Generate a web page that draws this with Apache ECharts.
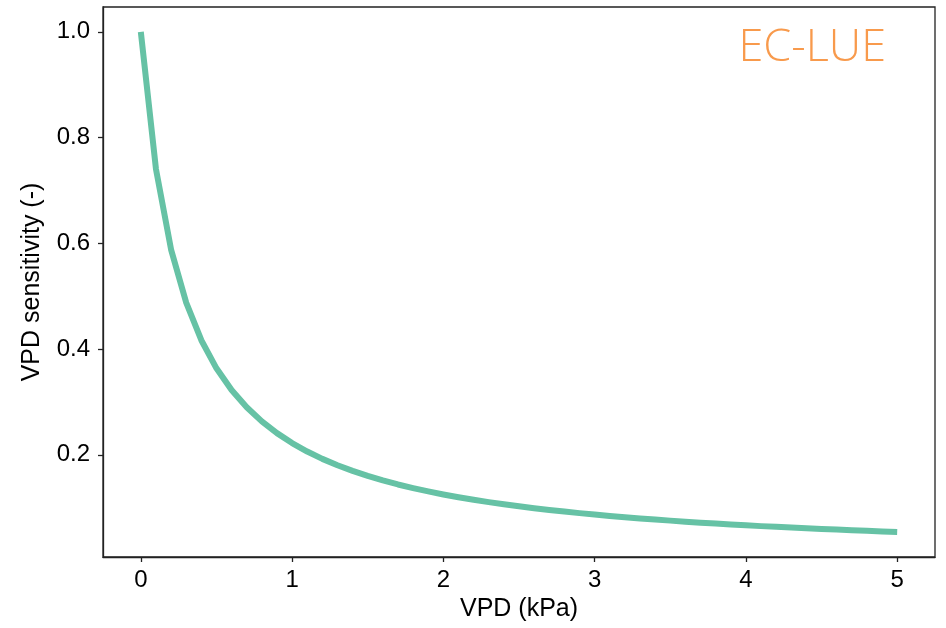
<!DOCTYPE html>
<html>
<head>
<meta charset="utf-8">
<script src="https://cdn.jsdelivr.net/npm/echarts@6/dist/echarts.min.js"></script>
<style>html,body{margin:0;padding:0;background:#fff;}#c{width:946px;height:628px;}</style>
</head>
<body>
<div id="c"></div>
<script>
const vpd = [0,0.1,0.2,0.3,0.4,0.5,0.6,0.7,0.8,0.9,1.0,1.1,1.2,1.3,1.4,1.5,1.6,1.7,1.8,1.9,2.0,2.1,2.2,2.3,2.4,2.5,2.6,2.7,2.8,2.9,3.0,3.1,3.2,3.3,3.4,3.5,3.6,3.7,3.8,3.9,4.0,4.1,4.2,4.3,4.4,4.5,4.6,4.7,4.8,4.9,5.0];
const sensitivity = [1.0000,0.7407,0.5882,0.4878,0.4167,0.3636,0.3226,0.2899,0.2632,0.2410,0.2222,0.2062,0.1923,0.1802,0.1695,0.1600,0.1515,0.1439,0.1370,0.1307,0.1250,0.1198,0.1149,0.1105,0.1064,0.1026,0.0990,0.0957,0.0926,0.0897,0.0870,0.0844,0.0820,0.0797,0.0775,0.0755,0.0735,0.0717,0.0699,0.0683,0.0667,0.0651,0.0637,0.0623,0.0610,0.0597,0.0585,0.0573,0.0562,0.0551,0.0541];
const xTicks = [0,1,2,3,4,5];
const yTicks = [0.2,0.4,0.6,0.8,1.0];
const modelName = 'EC-LUE';

const chart = echarts.init(document.getElementById('c'), null, {renderer:'canvas'});
const axisColor = '#222';
const font = 'Liberation Sans, Arial, sans-serif';
chart.setOption({
  animation:false,
  backgroundColor:'#fff',
  grid:{left:103,right:11,top:7,bottom:71,show:true,borderColor:axisColor,borderWidth:1.3,containLabel:false},
  graphic:[{type:'text',right:60,top:26,style:{text:modelName,fill:'#f89a4c',font:'300 45px "Open Sans", "Noto Sans", sans-serif'}}],
  xAxis:{type:'value',min:-0.25,max:5.25,
    name:'VPD (kPa)',nameLocation:'middle',nameGap:39,
    nameTextStyle:{fontFamily:font,fontSize:25,color:'#000'},
    axisLine:{show:true,onZero:false,lineStyle:{color:axisColor,width:1.3}},
    axisTick:{show:true,customValues:xTicks,length:5,inside:false,lineStyle:{color:axisColor,width:1.3}},
    axisLabel:{customValues:xTicks,fontFamily:font,fontSize:24,color:'#000',margin:11,formatter:v=>String(v)},
    splitLine:{show:false}},
  yAxis:{type:'value',min:0.0067,max:1.047,
    name:'VPD sensitivity (-)',nameLocation:'middle',nameGap:58,
    nameTextStyle:{fontFamily:font,fontSize:25,color:'#000'},
    axisLine:{show:true,onZero:false,lineStyle:{color:axisColor,width:1.3}},
    axisTick:{show:true,customValues:yTicks,length:5,inside:false,lineStyle:{color:axisColor,width:1.3}},
    axisLabel:{customValues:yTicks,fontFamily:font,fontSize:24,color:'#000',margin:13,formatter:v=>v.toFixed(1)},
    splitLine:{show:false}},
  series:[{type:'line',data:vpd.map((x,i)=>[x,sensitivity[i]]),showSymbol:false,symbol:'none',
    lineStyle:{color:'#66c2a5',width:6,cap:'butt',join:'round'},smooth:false}]
});
</script>
</body>
</html>
